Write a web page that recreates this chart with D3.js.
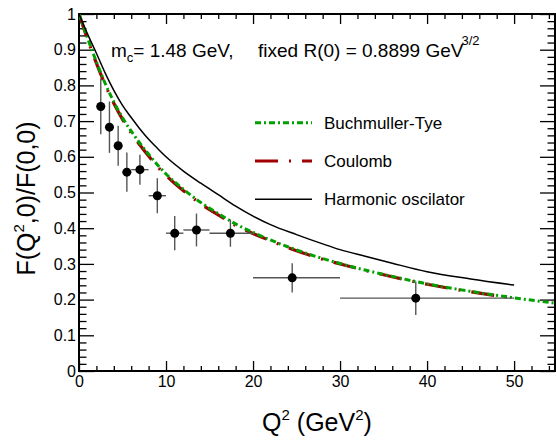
<!DOCTYPE html>
<html>
<head>
<meta charset="utf-8">
<script src="https://cdn.jsdelivr.net/npm/d3@7"></script>
<style>
  body { margin: 0; background: #fff; }
  svg text { font-family: "Liberation Sans", Arial, Helvetica, sans-serif; fill: #000; }
</style>
</head>
<body>
<svg id="chart" width="556" height="442"></svg>
<script>
// ---- Data ----
// measured points: Q2 centre, bin low/high edges, F ratio and its error
const dataQ2   = [2.5, 3.5, 4.5, 5.5, 7, 9, 11, 13.5, 17.4, 24.5, 38.7];
const dataQ2Lo = [2, 3, 4, 5, 6, 8, 10, 12, 15, 20, 30];
const dataQ2Hi = [3, 4, 5, 6, 8, 10, 12, 15, 20, 30, 50];
const dataF    = [0.741, 0.683, 0.631, 0.557, 0.564, 0.491, 0.386, 0.395, 0.386, 0.261, 0.204];
const dataFErr = [0.078, 0.072, 0.056, 0.055, 0.042, 0.049, 0.048, 0.046, 0.038, 0.041, 0.047];

// model curves, sampled at these Q2
const curveQ2 = [0, 1, 2, 3, 4, 5, 6, 7, 8, 9, 10, 12, 14, 16, 18, 20, 22, 25, 28, 30, 33, 36, 40, 45, 50, 55];
const harmonic = [1.0, 0.943, 0.89, 0.835, 0.786, 0.744, 0.710, 0.678, 0.649, 0.624, 0.600, 0.560, 0.526, 0.494,
                  0.462, 0.434, 0.41, 0.382, 0.356, 0.340, 0.321, 0.302, 0.278, 0.258, 0.241];
const coulomb  = [1.0, 0.928, 0.862, 0.802, 0.750, 0.705, 0.667, 0.633, 0.602, 0.573, 0.548, 0.505, 0.468, 0.437,
                  0.408, 0.385, 0.365, 0.337, 0.313, 0.300, 0.281, 0.264, 0.243, 0.222, 0.204];
const buchmuller = [1.0, 0.931, 0.866, 0.806, 0.754, 0.709, 0.672, 0.638, 0.607, 0.578, 0.552, 0.509, 0.472, 0.441,
                    0.412, 0.388, 0.367, 0.339, 0.315, 0.301, 0.282, 0.265, 0.244, 0.223, 0.205, 0.189];

const xMajor = [0, 10, 20, 30, 40, 50];
const yMajor = [0, 0.1, 0.2, 0.3, 0.4, 0.5, 0.6, 0.7, 0.8, 0.9, 1];

const legendNames = ["Buchmuller-Tye", "Coulomb", "Harmonic oscilator"];

// ---- Layout ----
const plot = {left: 79, right: 555, top: 14, bottom: 371};
const svg = d3.select("#chart");

const x = d3.scaleLinear().domain([0, 54.7]).range([plot.left, plot.right]);
const y = d3.scaleLinear().domain([0, 1]).range([plot.bottom, plot.top]);

const xMinor = d3.range(0, 55, 2).filter(v => v % 10 !== 0);
const yMinor = d3.range(0, 51).map(i => i / 50).filter((v, i) => i % 5 !== 0);

svg.append("clipPath").attr("id", "clip")
  .append("rect")
    .attr("x", plot.left).attr("y", plot.top)
    .attr("width", plot.right - plot.left).attr("height", plot.bottom - plot.top);

// ---- Axes (ROOT style, ticks pointing in) ----
function styleAxis(g) {
  g.select(".domain").remove();
  g.selectAll(".tick line").attr("stroke", "#000").attr("stroke-width", 1.3);
  g.selectAll("text").style("font-size", "16px").attr("fill", "#000");
}

svg.append("g")
    .attr("transform", `translate(0,${plot.bottom})`)
    .call(d3.axisBottom(x).tickValues(xMajor).tickSize(-10).tickPadding(5).tickFormat(d3.format("d")))
    .call(styleAxis);
svg.append("g")
    .attr("transform", `translate(0,${plot.bottom})`)
    .call(d3.axisBottom(x).tickValues(xMinor).tickSize(-5).tickFormat(""))
    .call(styleAxis);
svg.append("g")
    .attr("transform", `translate(0,${plot.top})`)
    .call(d3.axisTop(x).tickValues(xMajor).tickSize(-10).tickFormat(""))
    .call(styleAxis);
svg.append("g")
    .attr("transform", `translate(0,${plot.top})`)
    .call(d3.axisTop(x).tickValues(xMinor).tickSize(-5).tickFormat(""))
    .call(styleAxis);

svg.append("g")
    .attr("transform", `translate(${plot.left},0)`)
    .call(d3.axisLeft(y).tickValues(yMajor).tickSize(-15).tickPadding(3).tickFormat(d3.format("~g")))
    .call(styleAxis);
svg.append("g")
    .attr("transform", `translate(${plot.left},0)`)
    .call(d3.axisLeft(y).tickValues(yMinor).tickSize(-7.5).tickFormat(""))
    .call(styleAxis);
svg.append("g")
    .attr("transform", `translate(${plot.right},0)`)
    .call(d3.axisRight(y).tickValues(yMajor).tickSize(-15).tickFormat(""))
    .call(styleAxis);
svg.append("g")
    .attr("transform", `translate(${plot.right},0)`)
    .call(d3.axisRight(y).tickValues(yMinor).tickSize(-7.5).tickFormat(""))
    .call(styleAxis);

// frame
svg.append("rect")
    .attr("x", plot.left).attr("y", plot.top)
    .attr("width", plot.right - plot.left).attr("height", plot.bottom - plot.top)
    .attr("fill", "none").attr("stroke", "#000").attr("stroke-width", 2);

// ---- Curves ----
const models = [
  {values: coulomb, color: "#a00000", width: 3.2, dash: "23 11 2 11"},
  {values: buchmuller, color: "#00a000", width: 3, dash: "6 3 2 3"},
  {values: harmonic, color: "#000", width: 1.5, dash: null}
];
const line = d3.line().curve(d3.curveMonotoneX);
const curves = svg.append("g").attr("clip-path", "url(#clip)");
models.forEach(m => {
  curves.append("path")
      .attr("d", line(m.values.map((v, i) => [x(curveQ2[i]), y(v)])))
      .attr("fill", "none")
      .attr("stroke", m.color)
      .attr("stroke-width", m.width)
      .attr("stroke-dasharray", m.dash);
});

// ---- Data points with error bars ----
const pts = svg.append("g");
dataQ2.forEach((q, i) => {
  pts.append("line")
      .attr("x1", x(dataQ2Lo[i])).attr("x2", x(dataQ2Hi[i]))
      .attr("y1", y(dataF[i])).attr("y2", y(dataF[i]))
      .attr("stroke", "#555").attr("stroke-width", 1.4);
  pts.append("line")
      .attr("x1", x(q)).attr("x2", x(q))
      .attr("y1", y(dataF[i] - dataFErr[i])).attr("y2", y(dataF[i] + dataFErr[i]))
      .attr("stroke", "#555").attr("stroke-width", 1.4);
  pts.append("circle")
      .attr("cx", x(q)).attr("cy", y(dataF[i]))
      .attr("r", 4.5).attr("fill", "#000");
});

// ---- Legend ----
const legendY = [122.7, 161, 199.3];
const legend = svg.append("g");
[1, 0, 2].forEach((mi, k) => {
  const m = models[mi];
  legend.append("line")
      .attr("x1", 255).attr("x2", 312)
      .attr("y1", legendY[k]).attr("y2", legendY[k])
      .attr("stroke", m.color).attr("stroke-width", m.width)
      .attr("stroke-dasharray", m.dash);
  legend.append("text")
      .attr("x", 324).attr("y", legendY[k] + 6)
      .style("font-size", "17px")
      .text(legendNames[k]);
});

// ---- Annotation ----
const note = svg.append("text")
    .attr("x", 111).attr("y", 57)
    .style("font-size", "19px");
note.append("tspan").text("m");
note.append("tspan").attr("dy", 5).style("font-size", "13px").text("c");
note.append("tspan").attr("dy", -5).text("= 1.48 GeV,");
note.append("tspan").attr("x", 258).text("fixed R(0) = 0.8899 GeV");
note.append("tspan").attr("dx", -2).attr("dy", -12).style("font-size", "13px").text("3/2");

// ---- Axis titles ----
const xt = svg.append("text")
    .attr("x", (plot.left + plot.right) / 2).attr("y", 431)
    .attr("text-anchor", "middle")
    .style("font-size", "25px");
xt.append("tspan").text("Q");
xt.append("tspan").attr("dy", -11).style("font-size", "15px").text("2");
xt.append("tspan").attr("dy", 11).text(" (GeV");
xt.append("tspan").attr("dy", -11).style("font-size", "15px").text("2");
xt.append("tspan").attr("dy", 11).text(")");

const yt = svg.append("text")
    .attr("transform", `translate(35,${(plot.top + plot.bottom) / 2 + 6}) rotate(-90)`)
    .attr("text-anchor", "middle")
    .style("font-size", "25px");
yt.append("tspan").text("F(Q");
yt.append("tspan").attr("dy", -11).style("font-size", "15px").text("2");
yt.append("tspan").attr("dy", 11).text(",0)/F(0,0)");
</script>
</body>
</html>
